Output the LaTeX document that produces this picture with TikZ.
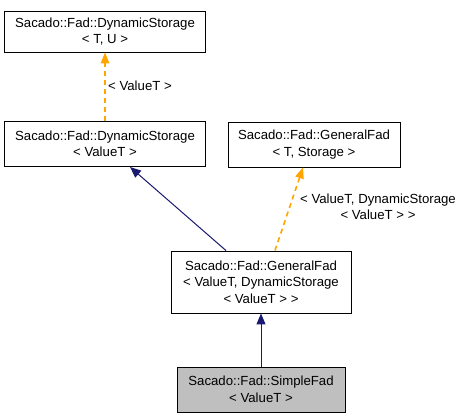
\documentclass[tikz,border=0pt]{standalone}
\usepackage{fontspec}
\setmainfont{Liberation Sans}
\usetikzlibrary{arrows.meta, positioning}

\begin{document}
\begin{tikzpicture}[
x=1pt, y=-1pt,
cls/.style={rectangle, draw, line width=0.9pt, inner sep=0pt, align=center,
font=\fontsize{13.2}{16.5}\selectfont},
inh/.style={draw={rgb,255:red,25;green,25;blue,112}, line width=1pt,
-{Triangle[length=11pt, width=9pt]}},
tmpl/.style={draw={rgb,255:red,255;green,165;blue,0}, line width=1.6pt, dashed,
dash pattern=on 5pt off 4pt, -{Triangle[length=11pt, width=9pt, line width=0pt]}},
lbl/.style={font=\fontsize{13.2}{16.5}\selectfont, inner sep=0pt, align=center}
]
\useasboundingbox (0,0) rectangle (463,419);

\node[cls, minimum width=201pt, minimum height=41pt] (dsTU) at (105,31.5)
{Sacado::Fad::DynamicStorage\\< T, U >};
\node[cls, minimum width=201pt, minimum height=45pt] (dsV) at (105,144)
{Sacado::Fad::DynamicStorage\\< ValueT >};
\node[cls, minimum width=172pt, minimum height=45pt] (gfTS) at (314,144.5)
{Sacado::Fad::GeneralFad\\< T, Storage >};
\node[cls, minimum width=180pt, minimum height=62pt] (gfV) at (261,282)
{Sacado::Fad::GeneralFad\\< ValueT, DynamicStorage\\< ValueT > >};
\node[cls, minimum width=168pt, minimum height=45pt, fill={rgb,255:red,191;green,191;blue,191}] (sf) at (261,389.5)
{Sacado::Fad::SimpleFad\\< ValueT >};

% inheritance and template edges
\draw[tmpl] (dsV.north) -- (dsTU.south);
\node[lbl, anchor=west] (dsLbl) at (108,86) {< ValueT >};
\draw[inh] ([xshift=-35pt]gfV.north) -- ([xshift=25pt]dsV.south);
\draw[tmpl] ([xshift=14pt]gfV.north) -- ([xshift=-11pt]gfTS.south);
\node[lbl] (gfLbl) at (378,207) {< ValueT, DynamicStorage\\< ValueT > >};
\draw[inh] (sf.north) -- (gfV.south);
\end{tikzpicture}
\end{document}
